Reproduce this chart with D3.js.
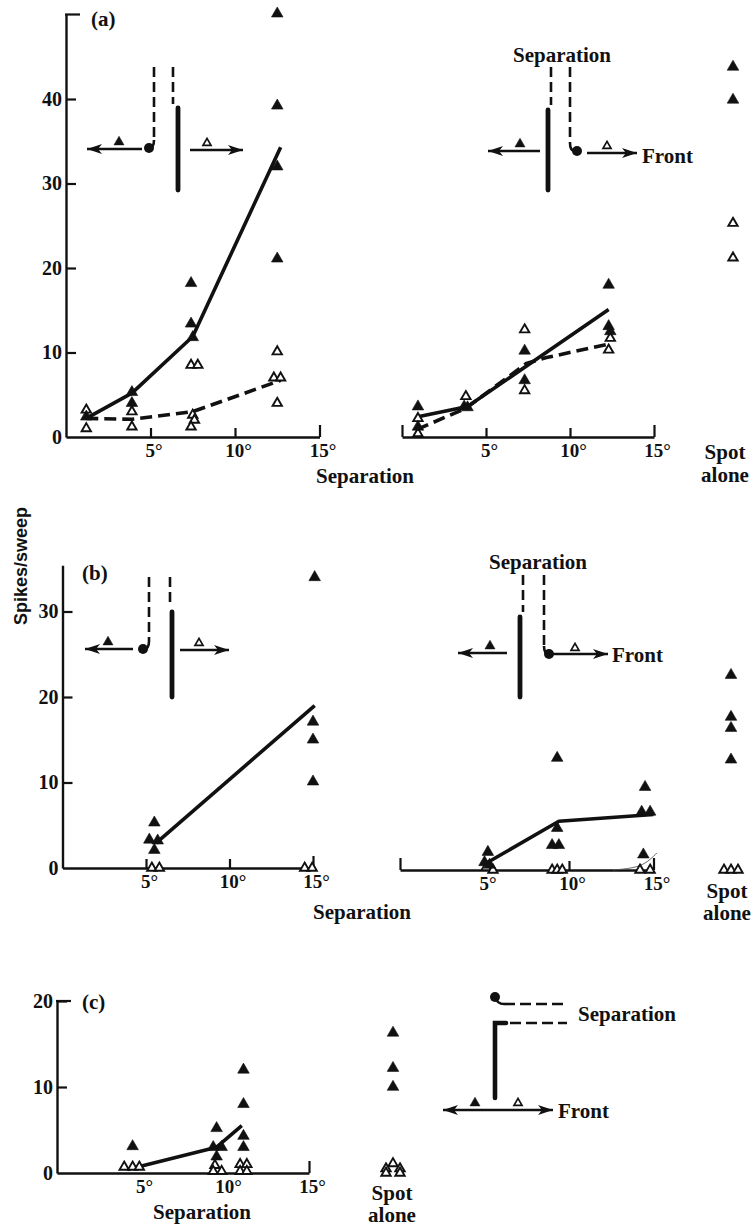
<!DOCTYPE html>
<html>
<head>
<meta charset="utf-8">
<script src="https://cdn.jsdelivr.net/npm/d3@7"></script>
<style>
  html, body { margin: 0; padding: 0; background: #fff; }
  svg { display: block; }
</style>
</head>
<body>
<svg id="fig" width="755" height="1226"></svg>
<script>
// Spikes per sweep against spot–bar separation (degrees).
// Filled triangles: bar moving away from the spot side; open: moving the other way.

const separationTicks = [5, 10, 15];
const aSpikeTicks = [0, 10, 20, 30, 40];
const bSpikeTicks = [0, 10, 20, 30];
const cSpikeTicks = [0, 10, 20];

// (a) left
const aLeftFilled = [[1.2, 2.4], [3.9, 5.3], [3.9, 4.0], [7.4, 18.2], [7.4, 13.4], [7.5, 11.8],
                     [12.5, 50.1], [12.5, 39.2], [12.5, 32.0], [12.5, 21.1]];
const aLeftOpen = [[1.2, 3.2], [1.2, 1.0], [3.9, 3.0], [3.9, 1.2], [7.4, 8.5], [7.8, 8.5],
                   [7.5, 2.6], [7.6, 2.0], [7.4, 1.2], [12.5, 10.1], [12.3, 7.0], [12.7, 7.0], [12.5, 4.0]];
const aLeftSolid = [[1.2, 2.2], [3.9, 5.2], [7.5, 11.9], [12.7, 34.3]];
const aLeftDashed = [[1.2, 2.2], [3.9, 2.1], [7.5, 3.0], [12.7, 6.7]];

// (a) right
const aRightFilled = [[0.95, 3.6], [0.95, 1.2], [3.7, 3.6], [3.9, 3.5], [7.3, 10.2], [7.3, 6.7],
                      [12.3, 18.0], [12.3, 13.1], [12.4, 12.5]];
const aRightOpen = [[0.95, 2.2], [0.95, 0.4], [3.8, 4.8], [7.3, 12.7], [7.3, 5.5], [12.4, 11.7], [12.3, 10.3]];
const aRightSolid = [[0.95, 2.4], [3.9, 3.6], [12.3, 15.1]];
const aRightDashed = [[0.9, 0.9], [3.8, 3.4], [7.4, 8.7], [8.6, 9.4], [12.3, 11.0]];

// (a) spot alone: [slot, spikes]
const aSpotFilled = [[0, 43.8], [0, 39.9]];
const aSpotOpen = [[0, 25.3], [0, 21.2]];

// (b) left
const bLeftFilled = [[5.5, 5.3], [5.2, 3.3], [5.7, 3.2], [5.5, 2.1], [15.1, 34.0], [15.0, 17.1], [15.0, 15.0], [15.0, 10.1]];
const bLeftOpen = [[5.35, 0], [5.8, 0], [14.5, 0], [14.95, 0]];
const bLeftSolid = [[5.6, 2.9], [15.1, 19.0]];

// (b) right
const bRightFilled = [[5.2, 2.1], [5.0, 0.9], [5.3, 0.6], [9.3, 13.1], [9.3, 4.9], [9.0, 2.9], [9.4, 2.9],
                      [14.5, 9.7], [14.3, 6.8], [14.8, 6.8], [14.4, 1.8]];
const bRightOpen = [[5.1, 0.3], [5.5, 0], [9.0, 0], [9.3, 0], [9.6, 0], [14.2, 0], [14.8, 0]];
const bRightSolid = [[5.2, 0.9], [9.4, 5.7], [15.0, 6.5]];
const bRightFaint = [[12.6, 0], [13.8, 0.2], [14.6, 0.8], [15.2, 2.0]];

// (b) spot alone
const bSpotFilled = [[0, 22.8], [0, 17.9], [0, 16.6], [0, 12.9]];
const bSpotOpen = [[-1, 0], [0, 0], [1, 0]];

// (c)
const cFilled = [[4.5, 3.1], [9.5, 5.2], [9.3, 3.0], [9.8, 3.0], [9.5, 1.9],
                 [11.1, 12.0], [11.1, 8.0], [11.1, 4.3], [11.1, 3.0]];
const cOpen = [[4.0, 0.7], [4.5, 0.7], [4.9, 0.7], [9.4, 0.9], [9.3, 0.2], [9.8, 0.2],
               [10.9, 1.0], [11.3, 1.0], [10.9, 0.2], [11.3, 0.2]];
const cSolid = [[4.2, 0.4], [9.5, 3.0], [11.0, 5.5]];
const cSpotFilled = [[0, 16.3], [0, 12.2], [0, 10.0]];
const cSpotOpen = [[0, 1.1], [-1, 0.5], [1, 0.5], [-1, 0], [1, 0]];

// ---------------------------------------------------------------
const ink = "#111";
const serif = "'Liberation Serif', 'Times New Roman', serif";
const sans = "'Liberation Sans', Arial, sans-serif";
const svg = d3.select("#fig");

const triFilled = d3.symbol(d3.symbolTriangle, 58);
const triOpen = d3.symbol(d3.symbolTriangle, 38);
const triSmallFilled = d3.symbol(d3.symbolTriangle, 44);
const triSmallOpen = d3.symbol(d3.symbolTriangle, 28);

function text(x, y, s, opt = {}) {
  return svg.append("text")
    .attr("x", x).attr("y", y)
    .attr("dominant-baseline", "central")
    .attr("text-anchor", opt.anchor || "start")
    .attr("font-family", opt.family || serif)
    .attr("font-weight", opt.weight || "bold")
    .attr("font-size", opt.size || 21)
    .attr("fill", ink)
    .text(s);
}

function drawYAxis(x, y, ticks, stub) {
  const g = svg.append("g").attr("transform", `translate(${x.range()[0]},0)`);
  g.call(d3.axisLeft(y).tickValues(ticks).tickSize(-10).tickSizeOuter(0).tickPadding(4)
    .tickFormat(d3.format("d")));
  g.select(".domain").attr("stroke", ink).attr("stroke-width", 2.4);
  g.selectAll(".tick line").attr("stroke", ink).attr("stroke-width", 2.2);
  g.selectAll(".tick").filter(d => d === 0).select("line").remove();
  g.selectAll(".tick text").attr("font-family", serif).attr("font-weight", "bold")
    .attr("font-size", 20).attr("fill", ink);
  if (stub) {
    const top = y.range()[1];
    g.append("line").attr("x1", -1).attr("x2", 14).attr("y1", top).attr("y2", top)
      .attr("stroke", ink).attr("stroke-width", 2.2);
  }
}

function drawXAxis(x, y, opts = {}) {
  const values = opts.startTick ? [0].concat(separationTicks) : separationTicks;
  const g = svg.append("g").attr("transform", `translate(0,${y.range()[0]})`);
  g.call(d3.axisBottom(x).tickValues(values).tickSize(-9).tickSizeOuter(0).tickPadding(7)
    .tickFormat(d => d === 0 ? "" : d + "°"));
  g.select(".domain").attr("stroke", ink).attr("stroke-width", 2.4);
  g.selectAll(".tick line").attr("stroke", ink).attr("stroke-width", 2.2)
    .attr("y2", d => (d === 0 || d === 15) ? -12 : -9);
  if (opts.onlyEndTick) g.selectAll(".tick").filter(d => d !== 15).select("line").remove();
  g.selectAll(".tick text").attr("font-family", serif).attr("font-weight", "bold")
    .attr("font-size", 19).attr("fill", ink).attr("dx", 3);
}

function drawLine(x, y, pts, dashed, width) {
  svg.append("path").datum(pts)
    .attr("d", d3.line().x(d => x(d[0])).y(d => y(d[1])))
    .attr("fill", "none").attr("stroke", ink)
    .attr("stroke-width", width || 3.6)
    .attr("stroke-linejoin", "round")
    .attr("stroke-dasharray", dashed ? "12 6" : null);
}

function drawPoints(x, y, pts, filled) {
  svg.append("g").selectAll("path").data(pts).join("path")
    .attr("transform", d => `translate(${x(d[0])},${y(d[1])})`)
    .attr("d", filled ? triFilled() : triOpen())
    .attr("fill", filled ? ink : "#fff")
    .attr("stroke", ink)
    .attr("stroke-width", filled ? 0.6 : 1.9)
    .attr("stroke-linejoin", "miter");
}

// ----- schematic helpers -----
function dashV(x, y1, y2) {
  svg.append("line").attr("x1", x).attr("x2", x).attr("y1", y1).attr("y2", y2)
    .attr("stroke", ink).attr("stroke-width", 2.6).attr("stroke-dasharray", "10 5");
}
function dashH(x1, x2, y) {
  svg.append("line").attr("x1", x1).attr("x2", x2).attr("y1", y).attr("y2", y)
    .attr("stroke", ink).attr("stroke-width", 2.6).attr("stroke-dasharray", "11 5");
}
function bar(x, y1, y2) {
  svg.append("line").attr("x1", x).attr("x2", x).attr("y1", y1).attr("y2", y2)
    .attr("stroke", ink).attr("stroke-width", 4.8).attr("stroke-linecap", "round");
}
function dot(x, y) {
  svg.append("circle").attr("cx", x).attr("cy", y).attr("r", 5).attr("fill", ink);
}
function hook(x, y, dir) {
  // short bend from a dashed line into the spot
  svg.append("path").attr("d", `M${x},${y - 8} Q${x},${y} ${x + dir * 5},${y}`)
    .attr("fill", "none").attr("stroke", ink).attr("stroke-width", 2.6);
}
function arrow(x1, x2, y, both) {
  svg.append("line").attr("x1", x1).attr("x2", x2).attr("y1", y).attr("y2", y)
    .attr("stroke", ink).attr("stroke-width", 2.4);
  const head = (xe, dir) => svg.append("path")
    .attr("d", `M${xe},${y} L${xe - dir * 15},${y - 5} L${xe - dir * 11},${y} L${xe - dir * 15},${y + 5} Z`)
    .attr("fill", ink);
  head(x2, Math.sign(x2 - x1));
  if (both) head(x1, Math.sign(x1 - x2));
}
function mark(x, y, filled) {
  svg.append("path").attr("transform", `translate(${x},${y})`)
    .attr("d", filled ? triSmallFilled() : triSmallOpen())
    .attr("fill", filled ? ink : "#fff").attr("stroke", ink)
    .attr("stroke-width", filled ? 0.5 : 1.7);
}

// ================= (a) =================
const aY = d3.scaleLinear().domain([0, 50]).range([437, 14.5]);
const aLX = d3.scaleLinear().domain([0, 15]).range([66, 319.5]);
const aRX = d3.scaleLinear().domain([0, 15]).range([402, 654]);
const aSpotX = d3.scaleLinear().domain([-1, 1]).range([725, 741]);

drawYAxis(aLX, aY, aSpikeTicks, true);
drawXAxis(aLX, aY);
drawXAxis(aRX, aY, { startTick: true });
drawLine(aLX, aY, aLeftSolid, false);
drawLine(aLX, aY, aLeftDashed, true);
drawPoints(aLX, aY, aLeftOpen, false);
drawPoints(aLX, aY, aLeftFilled, true);
drawLine(aRX, aY, aRightSolid, false);
drawLine(aRX, aY, aRightDashed, true);
drawPoints(aRX, aY, aRightOpen, false);
drawPoints(aRX, aY, aRightFilled, true);
drawPoints(aSpotX, aY, aSpotOpen, false);
drawPoints(aSpotX, aY, aSpotFilled, true);

text(91, 19, "(a)");
text(365, 476, "Separation", { anchor: "middle" });
text(725, 452, "Spot", { anchor: "middle" });
text(725, 475, "alone", { anchor: "middle" });

// schematic, left half of (a)
dashV(154, 67, 140); hook(154, 148, -1); dot(149, 148);
dashV(173, 67, 104); bar(178, 108, 190);
arrow(142, 87, 149); mark(119, 142, true);
arrow(190, 243, 150); mark(207, 143, false);

// schematic, right half of (a)
text(562, 55, "Separation", { anchor: "middle" });
dashV(551, 67, 105); bar(548, 110, 190);
dashV(570, 67, 143); hook(570, 151, 1); dot(577, 151);
arrow(540, 488, 151); mark(520, 144, true);
arrow(587, 637, 153); mark(607, 146, false);
text(642, 156, "Front");

// ================= (b) =================
const bY = d3.scaleLinear().domain([0, 10]).range([868, 782.5]);
const bYTop = d3.scaleLinear().domain([0, 35.4]).range([868, 868 - 35.4 * 8.55]);
const bRY = d3.scaleLinear().domain([0, 10]).range([870, 784.5]);
const bLX = d3.scaleLinear().domain([0, 15]).range([62.5, 313]);
const bRX = d3.scaleLinear().domain([0, 15]).range([400, 653.5]);
const bSpotX = d3.scaleLinear().domain([-1, 1]).range([724, 738]);

drawYAxis(bLX, bYTop, bSpikeTicks, false);
drawXAxis(bLX, bY);
drawXAxis(bRX, bRY, { startTick: true });
drawLine(bLX, bY, bLeftSolid, false);
drawPoints(bLX, bY, bLeftOpen, false);
drawPoints(bLX, bY, bLeftFilled, true);
svg.append("path").datum(bRightFaint)
  .attr("d", d3.line().x(d => bRX(d[0])).y(d => bRY(d[1])).curve(d3.curveBasis))
  .attr("fill", "none").attr("stroke", "#555").attr("stroke-width", 0.9);
drawLine(bRX, bRY, bRightSolid, false);
drawPoints(bRX, bRY, bRightOpen, false);
drawPoints(bRX, bRY, bRightFilled, true);
drawPoints(bSpotX, bRY, bSpotOpen, false);
drawPoints(bSpotX, bRY, bSpotFilled, true);

text(82, 573, "(b)");
text(362, 912, "Separation", { anchor: "middle" });
text(727, 891, "Spot", { anchor: "middle" });
text(727, 913, "alone", { anchor: "middle" });
svg.append("text")
  .attr("transform", "translate(21,566) rotate(-90)")
  .attr("text-anchor", "middle").attr("dominant-baseline", "central")
  .attr("font-family", sans).attr("font-weight", "bold").attr("font-size", 18)
  .attr("fill", ink).text("Spikes/sweep");

// schematic, left half of (b)
dashV(149, 577, 641); hook(149, 649, -1); dot(143, 649);
dashV(170, 577, 607); bar(172, 612, 697);
arrow(133, 85, 649); mark(108, 642, true);
arrow(180, 229, 650); mark(199, 643, false);

// schematic, right half of (b)
text(538, 562, "Separation", { anchor: "middle" });
dashV(523, 575, 612); bar(520, 617, 697);
dashV(544, 575, 646); hook(544, 654, 1); dot(549, 654);
arrow(549, 608, 654); mark(575, 648, false);
arrow(507, 458, 653); mark(490, 646, true);
text(612, 655, "Front");

// ================= (c) =================
const cY = d3.scaleLinear().domain([0, 20]).range([1173, 1001]);
const cX = d3.scaleLinear().domain([0, 15]).range([57, 309]);
const cSpotX = d3.scaleLinear().domain([-1, 1]).range([386, 400]);

drawYAxis(cX, cY, cSpikeTicks, true);
drawXAxis(cX, cY, { onlyEndTick: true });
drawLine(cX, cY, cSolid, false);
drawPoints(cX, cY, cOpen, false);
drawPoints(cX, cY, cFilled, true);
drawPoints(cSpotX, cY, cSpotOpen, false);
drawPoints(cSpotX, cY, cSpotFilled, true);

text(82, 1002, "(c)");
text(202, 1212, "Separation", { anchor: "middle" });
text(392, 1193, "Spot", { anchor: "middle" });
text(392, 1215, "alone", { anchor: "middle" });

// schematic for (c)
dot(495, 997);
svg.append("path").attr("d", "M495,997 Q497,1004 504,1004")
  .attr("fill", "none").attr("stroke", ink).attr("stroke-width", 2.4);
dashH(504, 567, 1004);
svg.append("path").attr("d", "M495,1098 V1023 H506")
  .attr("fill", "none").attr("stroke", ink).attr("stroke-width", 4.6)
  .attr("stroke-linecap", "round").attr("stroke-linejoin", "miter");
dashH(510, 567, 1023);
text(578, 1014, "Separation");
arrow(443, 553, 1110, true);
mark(475, 1103, true);
mark(518, 1103, false);
text(558, 1111, "Front");
</script>
</body>
</html>
